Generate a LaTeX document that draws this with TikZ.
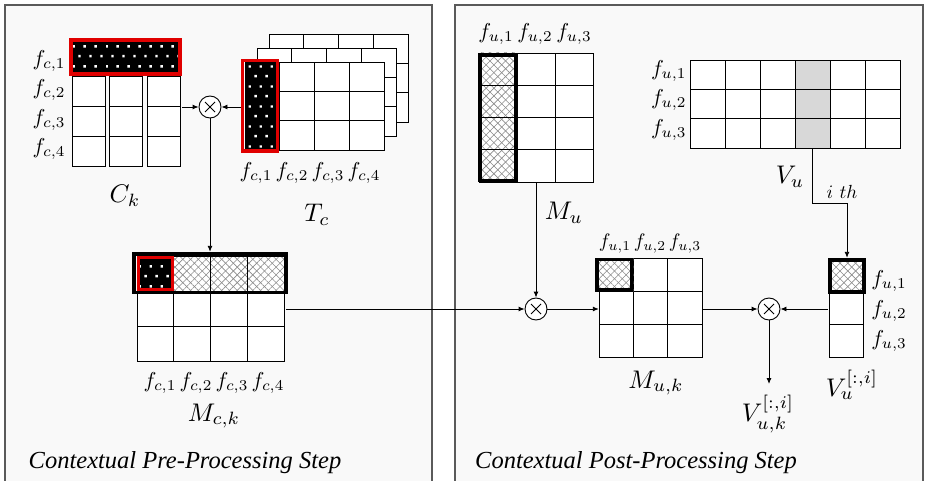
\RequirePackage{fix-cm}
\documentclass[tikz,border=0pt]{standalone}
\usepackage{fontspec}
\newfontfamily\stepfont{Liberation Serif}
\usetikzlibrary{patterns.meta,arrows.meta,fit}

\definecolor{panelbg}{HTML}{F9F9F9}
\definecolor{panelline}{HTML}{5A5A5A}
\definecolor{hatchgray}{HTML}{8A8A8A}
\definecolor{selgray}{HTML}{D8D8D8}
\definecolor{selred}{HTML}{E00000}

% staggered white dots on black
\tikzdeclarepattern{
  name=staggerdots,
  type=uncolored,
  bounding box={(0pt,0pt) and (11pt,20pt)},
  tile size={(11pt,20pt)},
  code={
    \fill (1.5pt,3.8pt) rectangle (4pt,6.3pt);
    \fill (7pt,13.8pt) rectangle (9.5pt,16.3pt);
  }
}

\tikzset{
  panel/.style={fill=panelbg,draw=panelline,line width=1.2pt},
  cell/.style={fill=white,draw=black,line width=0.8pt},
  selcell/.style={fill=selgray,draw=black,line width=0.8pt},
  hatchA/.style={pattern={Lines[angle=45,distance=5.5pt,line width=0.6pt]},pattern color=hatchgray},
  hatchB/.style={pattern={Lines[angle=-45,distance=5.5pt,line width=0.6pt]},pattern color=hatchgray},
  dotsfill/.style={pattern=staggerdots,pattern color=white},
  thickframe/.style={draw=black,line width=3.6pt},
  redframe/.style={draw=selred,line width=3.6pt},
  conn/.style={draw=black,line width=0.9pt,-{Latex[length=6pt,width=5pt]}},
  mult/.style={circle,draw=black,fill=white,line width=0.9pt,minimum size=22pt,inner sep=0pt,
    path picture={\draw[line width=0.9pt]
      ([shift={(-5pt,-5pt)}]path picture bounding box.center) -- ([shift={(5pt,5pt)}]path picture bounding box.center)
      ([shift={(-5pt,5pt)}]path picture bounding box.center) -- ([shift={(5pt,-5pt)}]path picture bounding box.center);}},
  flab/.style={inner sep=0pt,font=\fontsize{10}{12}\selectfont,scale=2.15},
  flabsmall/.style={inner sep=0pt,font=\fontsize{10}{12}\selectfont,scale=1.95},
  biglab/.style={inner sep=0pt,font=\fontsize{10}{12}\selectfont,scale=2.55},
  smalllab/.style={inner sep=0pt,font=\fontsize{10}{12}\selectfont,scale=1.9},
  steplab/.style={inner sep=0pt,font=\stepfont\itshape\fontsize{24.5}{27}\selectfont},
  region/.style={inner sep=0pt}
}

% cross-hatched rectangle
\newcommand{\hatchrect}[1]{%
  \fill[white] #1; \fill[hatchA] #1; \fill[hatchB] #1;}
% black rectangle with white dots
\newcommand{\dotrect}[1]{%
  \fill[black] #1; \fill[dotsfill] #1;}
% grid of white cells: x0, y0, columns, rows, cell width, cell height
\newcommand{\cellgrid}[6]{%
  \foreach \ci in {1,...,#3}{\foreach \cj in {1,...,#4}{%
    \draw[cell] ({#1+(\ci-1)*#5},{#2+(\cj-1)*#6}) rectangle ++(#5,#6);}}}

\begin{document}
\begin{tikzpicture}[x=1pt,y=-1pt]
\useasboundingbox (0,0) rectangle (926,481);
\clip (0,0) rectangle (926,481);
\fill[white] (0,0) rectangle (926,481);

% ---------- panels ----------
\draw[panel] (5,5) rectangle (432,492);
\draw[panel] (455,5) rectangle (923,492);

% ---------- C_k ----------
\foreach \cx in {72,109,147}{\cellgrid{\cx}{76}{1}{3}{33}{30}}
\dotrect{(72,42) rectangle (180,75)}
\foreach \cx in {72,109,147}{\draw[black,line width=0.8pt] (\cx,42) rectangle ++(33,33);}
\draw[redframe] (70.8,39.8) rectangle (180.2,74.2);
\node[region,fit={(69,38) (182,166)}] (Ck) {};

\node[flab,anchor=east] (ck1) at (66,61) {$f_{c,1}$};
\node[flab,anchor=east] (ck2) at (66,90) {$f_{c,2}$};
\node[flab,anchor=east] (ck3) at (66,120) {$f_{c,3}$};
\node[flab,anchor=east] (ck4) at (66,149) {$f_{c,4}$};
\node[biglab] (CkL) at (125,196) {$C_k$};

% ---------- T_c (stack of three slices) ----------
\foreach \dx/\dy in {24/-28,12/-14,0/0}{\cellgrid{245+\dx}{62+\dy}{4}{3}{34.75}{29.33}}
\dotrect{(245,62) rectangle (279.75,150)}
\draw[black,line width=0.8pt] (245,62) rectangle (279.75,150);
\draw[redframe] (242.5,60.5) rectangle (277.3,151);
\node[region,fit={(241,59) (384,152)}] (Tc) {};

\node[flab] (tc1) at (256,173) {$f_{c,1}$};
\node[flab] (tc2) at (292,173) {$f_{c,2}$};
\node[flab] (tc3) at (328,173) {$f_{c,3}$};
\node[flab] (tc4) at (364,173) {$f_{c,4}$};
\node[biglab] (TcL) at (317,215) {$T_c$};

% ---------- first product ----------
\node[mult] (m1) at (210,107) {};
\draw[conn] (Ck.east |- m1) -- (m1);
\draw[conn] (Tc.west |- m1) -- (m1);

% ---------- M_{c,k} ----------
\cellgrid{137}{256}{4}{3}{36.75}{35}
\foreach \i in {1,2,3}{\hatchrect{({137+\i*36.75},256) rectangle ++(36.75,35)}
  \draw[black,line width=0.8pt] ({137+\i*36.75},256) rectangle ++(36.75,35);}
\draw[thickframe] (134,254) rectangle (285.8,292.5);
\dotrect{(137,256) rectangle (173.75,291)}
\draw[selred,line width=3pt] (138.5,257.5) rectangle (172.3,289.5);
\node[region,fit={(132,252) (286,361)}] (Mck) {};

\draw[conn] (m1) -- (m1 |- Mck.north);

\node[flab] (mc1) at (160,383) {$f_{c,1}$};
\node[flab] (mc2) at (196,383) {$f_{c,2}$};
\node[flab] (mc3) at (232,383) {$f_{c,3}$};
\node[flab] (mc4) at (268,383) {$f_{c,4}$};
\node[biglab] (MckL) at (214,416) {$M_{c,k}$};

\node[steplab] (pre) at (185,463) {Contextual Pre-Processing Step};

% ---------- M_u ----------
\cellgrid{479}{53}{3}{4}{38}{32.25}
\foreach \j in {0,1,2,3}{\hatchrect{(479,{53+\j*32.25}) rectangle ++(38,32.25)}
  \draw[black,line width=0.8pt] (479,{53+\j*32.25}) rectangle ++(38,32.25);}
\draw[thickframe] (479.8,54.8) rectangle (515.4,180.5);
\node[region,fit={(478,52) (593,182)}] (Mu) {};

\node[flab] (mu1) at (496,34) {$f_{u,1}$};
\node[flab] (mu2) at (535,34) {$f_{u,2}$};
\node[flab] (mu3) at (574,34) {$f_{u,3}$};
\node[biglab] (MuL) at (564,213) {$M_u$};

% ---------- V_u ----------
\cellgrid{690}{60}{6}{3}{35}{29.33}
\foreach \j in {0,1,2}{\draw[selcell] (795,{60+\j*29.33}) rectangle ++(35,29.33);}
\node[region,fit={(795,60) (830,148)}] (Vsel) {};
\node[region,fit={(690,60) (900,148)}] (Vu) {};

\node[flab,anchor=east] (vu1) at (687,71) {$f_{u,1}$};
\node[flab,anchor=east] (vu2) at (687,100) {$f_{u,2}$};
\node[flab,anchor=east] (vu3) at (687,130) {$f_{u,3}$};
\node[biglab] (VuL) at (790,177) {$V_u$};

% ---------- M_{u,k} ----------
\cellgrid{599}{258}{3}{3}{34.33}{33}
\hatchrect{(599,258) rectangle ++(34.33,33)}
\draw[thickframe] (596.8,259.3) rectangle (631.5,290.2);
\node[region,fit={(599,258) (702,357)}] (Muk) {};

\node[flabsmall] (mk1) at (615,244) {$f_{u,1}$};
\node[flabsmall] (mk2) at (650,244) {$f_{u,2}$};
\node[flabsmall] (mk3) at (685,244) {$f_{u,3}$};
\node[biglab] (MukL) at (656,383) {$M_{u,k}$};

% ---------- V_u^{[:,i]} ----------
\cellgrid{829}{259}{1}{3}{34}{32.67}
\hatchrect{(829,259) rectangle ++(34,32.67)}
\draw[thickframe] (829.8,259.8) rectangle (864.2,292.2);
\node[region,fit={(828,258) (866,357)}] (Vcol) {};

\node[flab,anchor=west] (vc1) at (871,281) {$f_{u,1}$};
\node[flab,anchor=west] (vc2) at (871,311) {$f_{u,2}$};
\node[flab,anchor=west] (vc3) at (871,341) {$f_{u,3}$};
\node[biglab] (VcolL) at (852,385) {$V_u^{[:,i]}$};

% ---------- products on the right ----------
\node[mult] (m2) at (536,309) {};
\node[mult] (m3) at (769,309) {};
\coordinate (out) at (769,384);

\draw[conn] (Mu.south -| m2) -- (m2);
\draw[conn] (Mck.east |- m2) -- (m2);
\draw[conn] (m2) -- (m2 -| Muk.west);
\draw[conn] (Muk.east |- m3) -- (m3);
\draw[conn] (Vcol.west |- m3) -- (m3);
\draw[conn] (m3) -- (out);
\draw[conn] (Vsel.south) -- ++(0,55) -| (Vcol.north);
\node[smalllab] (ith) at (842,192) {$i\ th$};

\node[biglab] (VukL) at (768,414) {$V_{u,k}^{[:,i]}$};

\node[steplab] (post) at (636,463) {Contextual Post-Processing Step};
\end{tikzpicture}
\end{document}
